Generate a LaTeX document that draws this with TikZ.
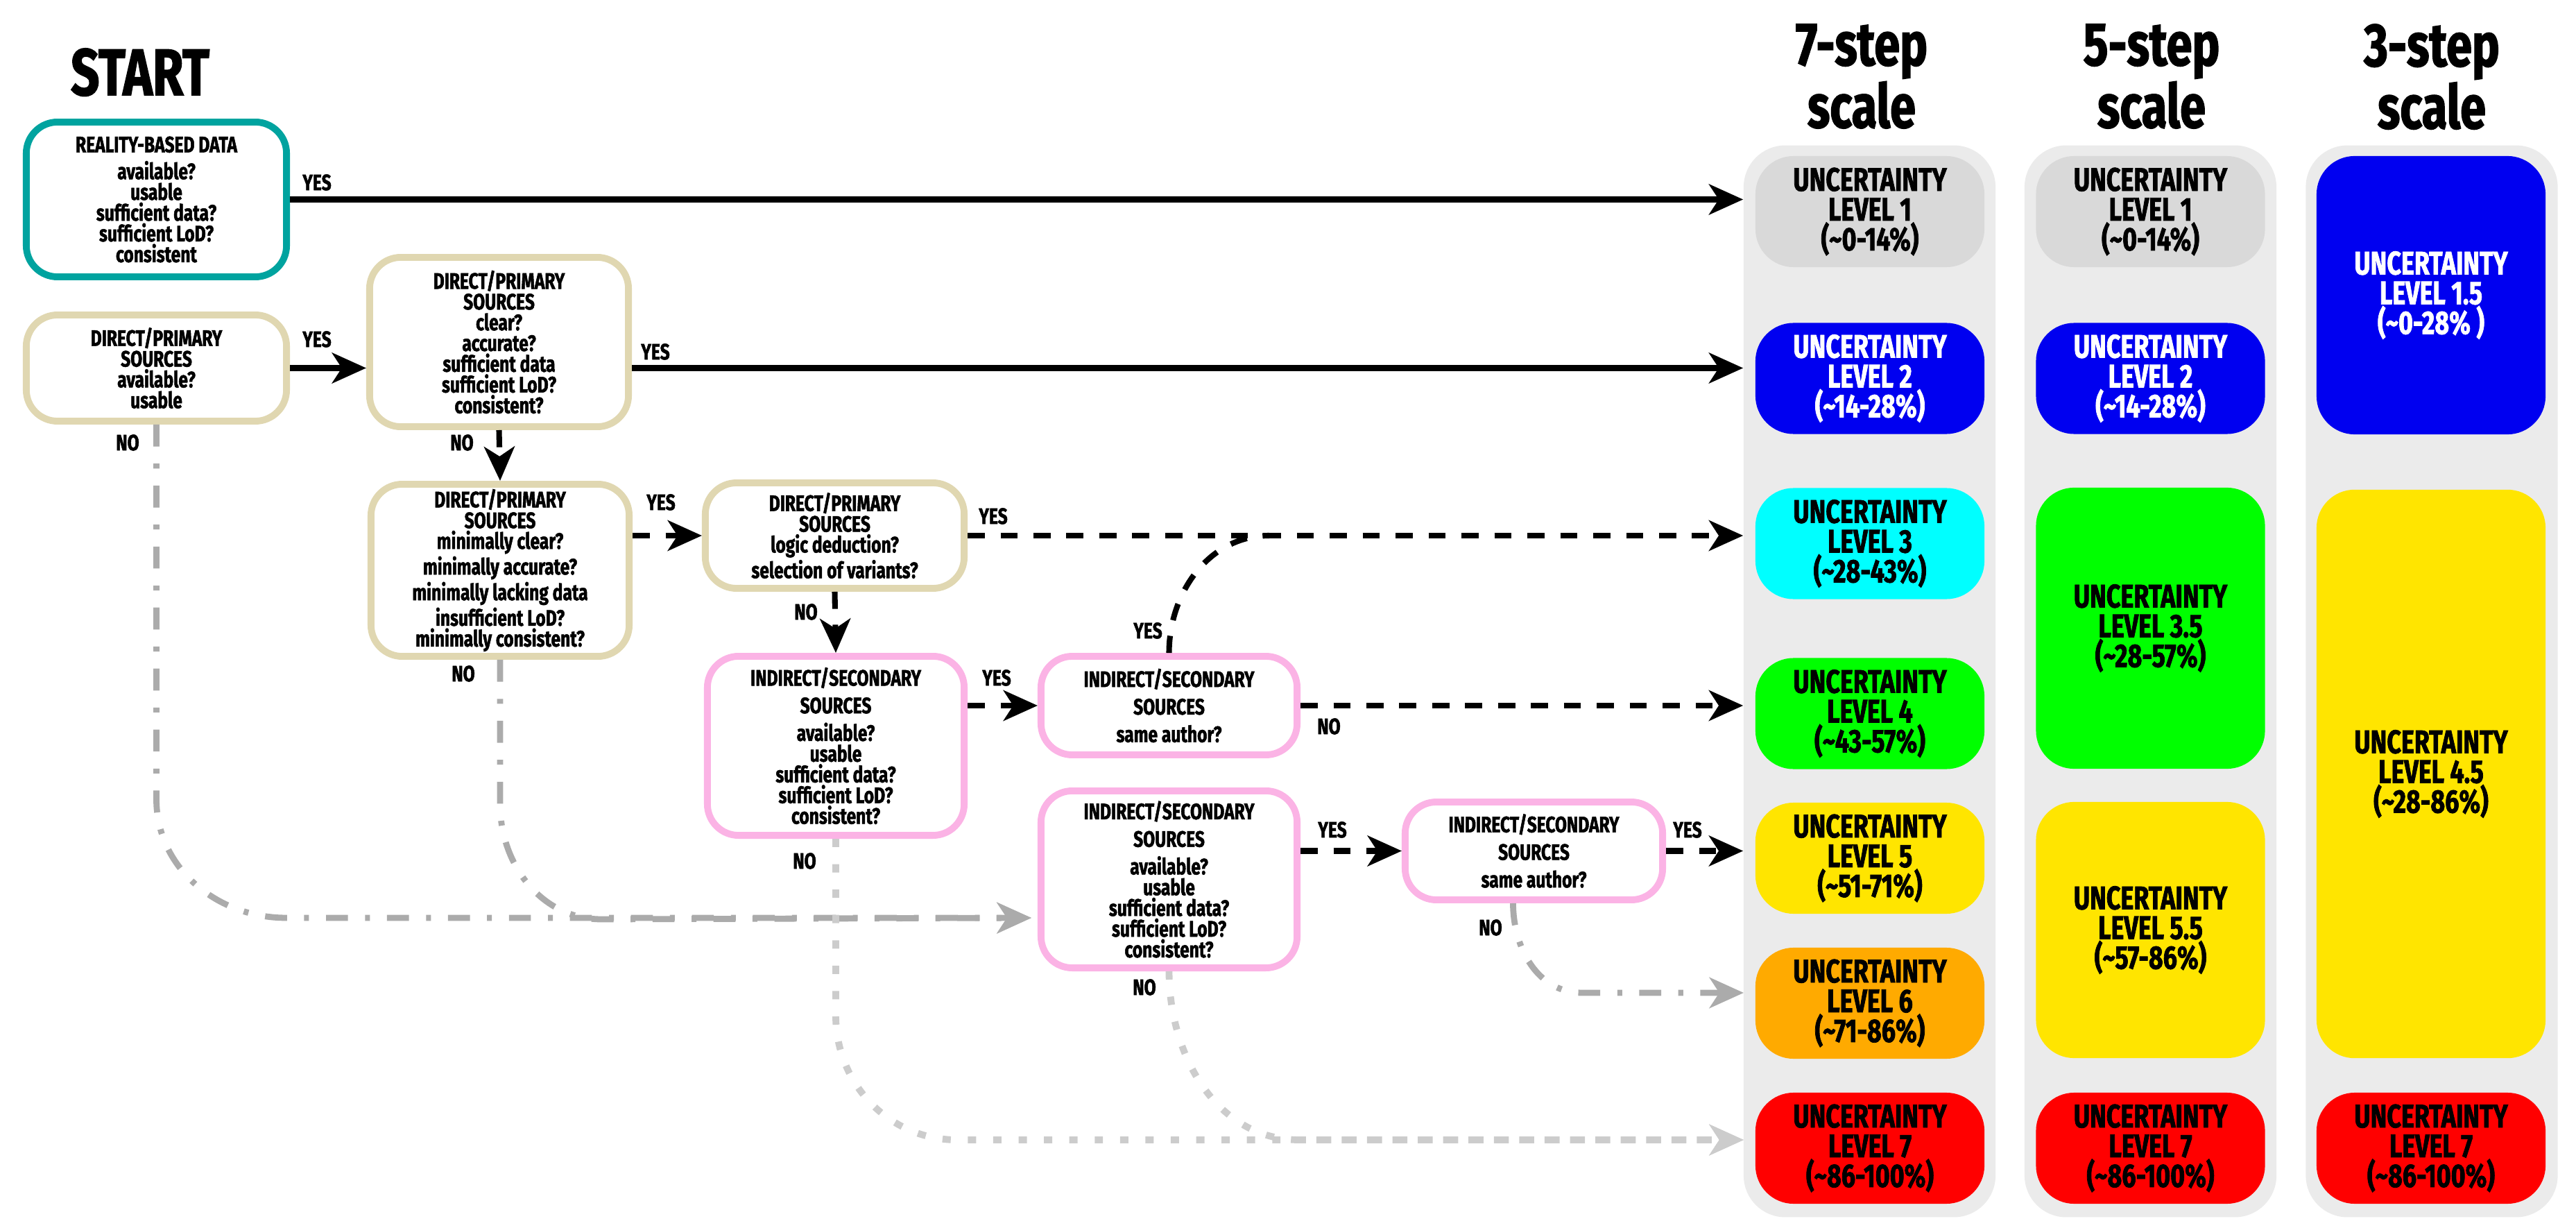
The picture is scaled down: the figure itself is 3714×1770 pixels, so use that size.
\documentclass[tikz,border=0pt]{standalone}
\usepackage{fontspec}
\setmainfont{Fira Sans}[FakeStretch=0.76,BoldFeatures={FakeBold=1.6}]
\usetikzlibrary{arrows.meta}
\definecolor{tealline}{HTML}{00A39F}
\definecolor{tanline}{HTML}{E0D7B1}
\definecolor{pinkline}{HTML}{FBB3E5}
\definecolor{colgray}{HTML}{EBEBEB}
\definecolor{lvgray}{HTML}{D9D9D9}
\definecolor{lvblue}{HTML}{0000F0}
\definecolor{lvcyan}{HTML}{00FFFF}
\definecolor{lvgreen}{HTML}{00FF00}
\definecolor{lvyellow}{HTML}{FFE500}
\definecolor{lvorange}{HTML}{FFAA00}
\definecolor{lvred}{HTML}{FF0000}
\definecolor{nogray}{HTML}{ABABAB}
\definecolor{nolight}{HTML}{CCCCCC}

\begin{document}
\begin{tikzpicture}[x=0.01cm,y=-0.01cm,font=\bfseries,
  qbox/.style={draw=#1,line width=2.8pt,rounded corners=0.45cm,align=center,inner sep=2pt,
    font=\bfseries\fontsize{9.2}{8.5}\selectfont},
  lvbox/.style={fill=#1,rounded corners=0.55cm,minimum width=3.3cm,minimum height=1.6cm,
    align=center,inner sep=0pt,font=\bfseries\fontsize{13.4}{12.2}\selectfont},
  colbg/.style={fill=colgray,rounded corners=0.6cm,minimum width=3.63cm,minimum height=15.44cm},
  hdr/.style={anchor=north,align=center,inner sep=0pt,font=\bfseries\fontsize{25}{21.9}\selectfont},
  lab/.style={inner sep=0pt,font=\bfseries\fontsize{9.2}{9}\selectfont},
  tip/.style={-{Stealth[length=14pt,width=12.5pt,inset=4pt]}},
  firmarrow/.style={line width=2.3pt,tip},
  dashline/.style={line width=2.3pt,dash pattern=on 7pt off 6.5pt},
  dasharrow/.style={dashline,tip},
  greyarrow/.style={draw=nogray,line width=2.5pt,dash pattern=on 9pt off 7pt on 2pt off 7pt,
    -{Stealth[length=14pt,width=12.5pt,inset=4pt,nogray]}},
  dotarrow/.style={draw=nolight,line width=2.8pt,dash pattern=on 3.4pt off 7pt,
    -{Stealth[length=14pt,width=12.5pt,inset=4pt,nolight]}}]
\useasboundingbox (0,0) rectangle (3714,1770);

% Scale columns
\node[colbg] (col7) at (2695.5,982) {};
\node[colbg] (col5) at (3100.5,982) {};
\node[colbg] (col3) at (3506,982) {};
\node[hdr] (h7) at (2684,34) {7-step\\scale};
\node[hdr] (h5) at (3102,34) {5-step\\scale};
\node[hdr] (h3) at (3506,34) {3-step\\scale};

% 7-step
\node[lvbox=lvgray] (l71) at (2696,305) {UNCERTAINTY\\LEVEL 1\\(\textasciitilde 0-14\%)};
\node[lvbox=lvblue,text=white] (l72) at (2696,545.5) {UNCERTAINTY\\LEVEL 2\\(\textasciitilde 14-28\%)};
\node[lvbox=lvcyan] (l73) at (2696,783.5) {UNCERTAINTY\\LEVEL 3\\(\textasciitilde 28-43\%)};
\node[lvbox=lvgreen] (l74) at (2696,1028.5) {UNCERTAINTY\\LEVEL 4\\(\textasciitilde 43-57\%)};
\node[lvbox=lvyellow] (l75) at (2696,1237) {UNCERTAINTY\\LEVEL 5\\(\textasciitilde 51-71\%)};
\node[lvbox=lvorange] (l76) at (2696,1446) {UNCERTAINTY\\LEVEL 6\\(\textasciitilde 71-86\%)};
\node[lvbox=lvred] (l77) at (2696,1655) {UNCERTAINTY\\LEVEL 7\\(\textasciitilde 86-100\%)};

% 5-step
\node[lvbox=lvgray] (l51) at (3100.5,305) {UNCERTAINTY\\LEVEL 1\\(\textasciitilde 0-14\%)};
\node[lvbox=lvblue,text=white] (l52) at (3100.5,545.5) {UNCERTAINTY\\LEVEL 2\\(\textasciitilde 14-28\%)};
\node[lvbox=lvgreen,minimum height=4.05cm] (l535) at (3100.5,905.5) {UNCERTAINTY\\LEVEL 3.5\\(\textasciitilde 28-57\%)};
\node[lvbox=lvyellow,minimum height=3.69cm] (l555) at (3100.5,1340.5) {UNCERTAINTY\\LEVEL 5.5\\(\textasciitilde 57-86\%)};
\node[lvbox=lvred] (l57) at (3100.5,1655) {UNCERTAINTY\\LEVEL 7\\(\textasciitilde 86-100\%)};

% 3-step
\node[lvbox=lvblue,text=white,minimum height=4.01cm] (l315) at (3505,425.5) {UNCERTAINTY\\LEVEL 1.5\\(\textasciitilde 0-28\% )};
\node[lvbox=lvyellow,minimum height=8.19cm] (l345) at (3505,1115.5) {UNCERTAINTY\\LEVEL 4.5\\(\textasciitilde 28-86\%)};
\node[lvbox=lvred] (l37) at (3505,1655) {UNCERTAINTY\\LEVEL 7\\(\textasciitilde 86-100\%)};

% Questions
\node[anchor=north,inner sep=0pt,font=\bfseries\fontsize{27}{27}\selectfont] (start) at (202,69) {START};
\node[qbox=tealline,minimum width=3.75cm,minimum height=2.23cm] (b1) at (225.5,287.5)
  {REALITY-BASED DATA\\[2.5pt]available?\\usable\\sufficient data?\\sufficient LoD?\\consistent};
\node[qbox=tanline,minimum width=3.75cm,minimum height=1.53cm] (b2) at (225.5,530.5)
  {DIRECT/PRIMARY\\SOURCES\\available?\\usable};
\node[qbox=tanline,minimum width=3.73cm,minimum height=2.44cm] (b3) at (719.5,493)
  {DIRECT/PRIMARY\\SOURCES\\clear?\\accurate?\\sufficient data\\sufficient LoD?\\consistent?};
\node[qbox=tanline,minimum width=3.72cm,minimum height=2.44cm] (b4) at (721,822)
  {DIRECT/PRIMARY\\SOURCES\\minimally clear?\\minimally accurate?\\minimally lacking data\\insufficient LoD?\\minimally consistent?};
\node[qbox=tanline,minimum width=3.73cm,minimum height=1.52cm] (b5) at (1203.5,772)
  {DIRECT/PRIMARY\\SOURCES\\logic deduction?\\selection of variants?};
\node[qbox=pinkline,minimum width=3.7cm,minimum height=2.58cm] (b6) at (1205,1075)
  {INDIRECT/SECONDARY\\[2.8pt]SOURCES\\[2.8pt]available?\\usable\\sufficient data?\\sufficient LoD?\\consistent?};
\node[qbox=pinkline,minimum width=3.69cm,minimum height=1.42cm] (b7) at (1685.5,1017)
  {INDIRECT/SECONDARY\\[2.8pt]SOURCES\\[2.8pt]same author?};
\node[qbox=pinkline,minimum width=3.69cm,minimum height=2.55cm] (b8) at (1685.5,1267.5)
  {INDIRECT/SECONDARY\\[2.8pt]SOURCES\\[2.8pt]available?\\usable\\sufficient data?\\sufficient LoD?\\consistent?};
\node[qbox=pinkline,minimum width=3.71cm,minimum height=1.41cm] (b9) at (2211.5,1226.5)
  {INDIRECT/SECONDARY\\[2.8pt]SOURCES\\[2.8pt]same author?};

% Labels
\node[lab] (yes1) at (457,263) {YES};
\node[lab] (yes2) at (457,489) {YES};
\node[lab] (yes3) at (945,507) {YES};
\node[lab] (no2) at (184,638) {NO};
\node[lab] (no3) at (666,638) {NO};
\node[lab] (yes4) at (953,724) {YES};
\node[lab] (no4) at (668,971) {NO};
\node[lab] (yes5) at (1432,744) {YES};
\node[lab] (no5) at (1162,882) {NO};
\node[lab] (yes6) at (1437,977) {YES};
\node[lab] (no6) at (1160,1241) {NO};
\node[lab] (yes7) at (1655,909) {YES};
\node[lab] (no7) at (1916,1047) {NO};
\node[lab] (yes8) at (1921,1196) {YES};
\node[lab] (no8) at (1650,1423) {NO};
\node[lab] (yes9) at (2433,1196) {YES};
\node[lab] (no9) at (2149,1337) {NO};

% Arrows
\coordinate (join3) at (1830,772);
\coordinate (in8) at (1487,1323);
\coordinate (to6) at (2514,1431);
\coordinate (to7) at (2514,1643);
\draw[firmarrow] (b1.east) -- (b1.east -| col7.west);
\draw[firmarrow] (b2.east) -- (b3.west |- b2.east);
\draw[firmarrow] (b3.east |- b2.east) -- (b2.east -| col7.west);
\draw[dasharrow] (b3.south) -- (b4.north);
\draw[dasharrow] (b4.east |- b5.west) -- (b5.west);
\draw[dasharrow] (b5.east) -- (b5.east -| col7.west);
\draw[dasharrow] (b5.south) -- (b6.north);
\draw[dasharrow] (b6.east |- b7.west) -- (b7.west);
\draw[dashline] (b7.north) to[out=90,in=180] (join3);
\draw[dasharrow] (b7.east) -- (b7.east -| col7.west);
\draw[dasharrow] (b8.east |- b9.west) -- (b9.west);
\draw[dasharrow] (b9.east) -- (b9.east -| col7.west);

% No branches
\draw[greyarrow] (b2.south) -- ++(0,540) to[out=-90,in=180] ++(187,171) -- (in8);
\draw[greyarrow] (b4.south) -- ++(0,208) to[out=-90,in=180] ++(146,166) -- (in8);
\draw[greyarrow] ([xshift=-0.3cm]b9.south) to[out=-90,in=180] ++(99,129) -- (to6);
\draw[dotarrow] (b6.south) -- ++(0,255) to[out=-90,in=180] ++(175,179) -- (to7);
\draw[dotarrow] (b8.south) to[out=-90,in=180] ++(188,243) -- (to7);

\end{tikzpicture}
\end{document}
